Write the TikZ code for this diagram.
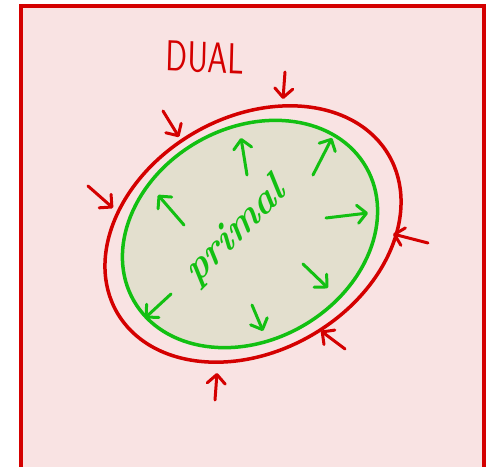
\documentclass[tikz,border=0pt]{standalone}
\usetikzlibrary{arrows.meta}
\definecolor{dred}{RGB}{212,0,0}
\definecolor{dgreen}{RGB}{18,192,18}
\definecolor{bgpink}{RGB}{249,227,227}
\definecolor{beige}{RGB}{227,223,206}
\begin{document}
\begin{tikzpicture}[x=1pt,y=1pt,
  redarr/.style={draw=dred,line width=3pt,line cap=round,-{Straight Barb[length=9pt,width=18pt,round]}},
  grnarr/.style={draw=dgreen,line width=3pt,line cap=round,-{Straight Barb[length=9pt,width=18pt,round]}},
  ]
\useasboundingbox (0,0) rectangle (497,466);
\fill[white] (0,0) rectangle (497,466);
\begin{scope}
\clip (0,0) rectangle (497,466);
\draw[dred,line width=3.2pt,fill=bgpink] (21,460) rectangle (484,-20);
\end{scope}
\coordinate (c) at (253,232);
\coordinate (cg) at (250,232);
\draw[dred,line width=3.5pt] (c) ellipse [x radius=157, y radius=117, rotate=30];
\draw[dgreen,line width=3.5pt,fill=beige] (cg) ellipse [x radius=134, y radius=106, rotate=30];
\node[text=dred,font=\sffamily\fontsize{32}{32}\selectfont,yscale=1.35,rotate=-2] (dual) at (205,408) {DUAL};
\node[text=dgreen,font=\bfseries\itshape\fontsize{36}{36}\selectfont,yscale=1.2,rotate=40] (primal) at (236,234) {primal};
% green arrows
\coordinate (g1a) at (247,291); \coordinate (g1b) at (241,328);
\coordinate (g2a) at (313,291); \coordinate (g2b) at (332,328);
\coordinate (g3a) at (326,248); \coordinate (g3b) at (368,253);
\coordinate (g4a) at (303,202); \coordinate (g4b) at (328,178);
\coordinate (g5a) at (252,161); \coordinate (g5b) at (263,135);
\coordinate (g6a) at (171,172); \coordinate (g6b) at (145,148);
\coordinate (g7a) at (184,241); \coordinate (g7b) at (158,271);
\foreach \i in {1,...,7} \draw[grnarr] (g\i a) -- (g\i b);
% red arrows
\coordinate (r1a) at (285,394); \coordinate (r1b) at (283,367);
\coordinate (r2a) at (163,355); \coordinate (r2b) at (179,329);
\coordinate (r3a) at (88,280); \coordinate (r3b) at (113,258);
\coordinate (r4a) at (428,223); \coordinate (r4b) at (393,232);
\coordinate (r5a) at (345,117); \coordinate (r5b) at (321,135);
\coordinate (r6a) at (215,66); \coordinate (r6b) at (217,93);
\foreach \i in {1,...,6} \draw[redarr] (r\i a) -- (r\i b);
\end{tikzpicture}
\end{document}
